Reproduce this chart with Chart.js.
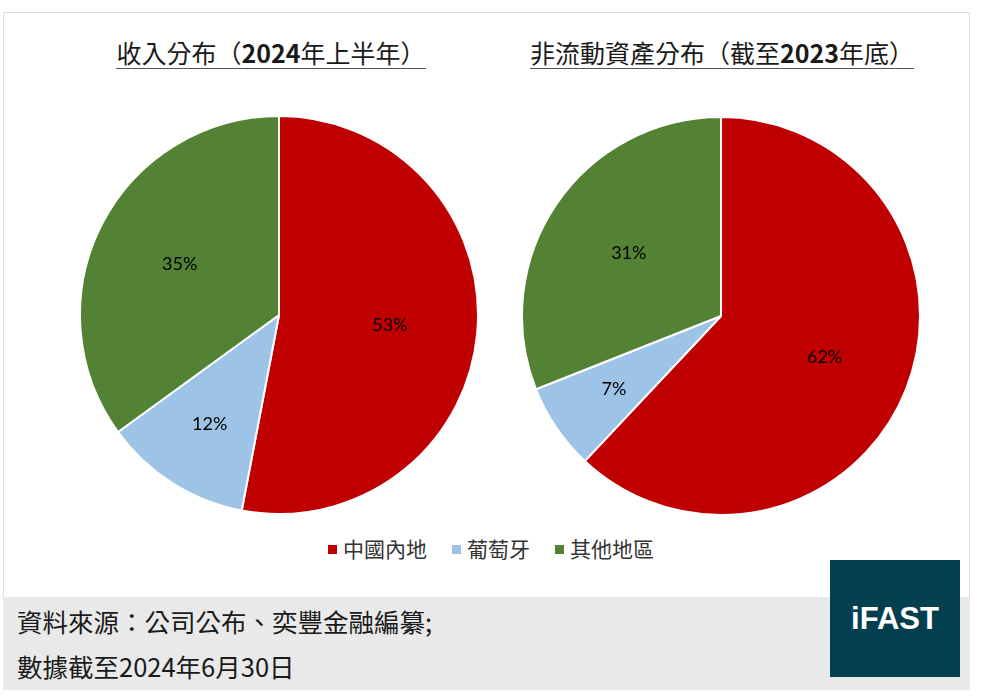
<!DOCTYPE html>
<html>
<head>
<meta charset="utf-8">
<script src="https://cdn.jsdelivr.net/npm/chart.js@4.4.1/dist/chart.umd.min.js"></script>
<style>
  body { margin: 0; width: 982px; height: 697px; background: #fff; position: relative; overflow: hidden;
         font-family: "Noto Sans CJK TC", "Noto Sans", sans-serif; }
  #frame { position: absolute; left: 3px; top: 12px; width: 965px; height: 584px; border: 1px solid #dcdcdc; background: #fff; }
  #footer { position: absolute; left: 3px; top: 597px; width: 967px; height: 93px; background: #e9e9e9; }
  .title { position: absolute; top: 34px; width: 500px; text-align: center; color: #1a1a1a; font-size: 25px; }
  .title span { display: inline-block; line-height: 29px; padding-bottom: 1px; border-bottom: 1.5px solid #555; }
  .title b { font-weight: 700; }
  canvas { position: absolute; }
  #legend { position: absolute; top: 533px; left: 0; width: 982px; text-align: center; font-size: 21px; color: #333; }
  #legend .item { display: inline-block; margin: 0 12.5px; }
  #legend .box { display: inline-block; width: 9px; height: 9px; margin-right: 6px; vertical-align: 3px; }
  .note { position: absolute; left: 17px; font-size: 25.5px; color: #1a1a1a; line-height: 30px; }
  #logo { position: absolute; left: 830px; top: 560px; width: 130px; height: 117px; background: #023f4f;
          color: #fff; font-family: "Liberation Sans", Arial, sans-serif; font-weight: bold; font-size: 31px;
          text-align: center; line-height: 117px; }
</style>
</head>
<body>
<div id="frame"></div>
<div id="footer"></div>

<div class="title" style="left:21px"><span>收入分布（<b>2024</b>年上半年）</span></div>
<div class="title" style="left:472px"><span>非流動資產分布（截至<b>2023</b>年底）</span></div>

<canvas id="chartRevenue" width="400" height="400" style="left:79px; top:115px; width:400px; height:400px"></canvas>
<canvas id="chartAssets" width="400" height="400" style="left:521px; top:116px; width:400px; height:400px"></canvas>

<div id="legend"></div>

<div class="note" style="top:606px">資料來源：公司公布、奕豐金融編纂;</div>
<div class="note" style="top:651px">數據截至2024年6月30日</div>
<div id="logo">iFAST</div>

<script>
// 數據
var categories = ['中國內地', '葡萄牙', '其他地區']
var revenueShare = [53, 12, 35]   // 收入分布 2024上半年 (%)
var assetShare = [62, 7, 31]      // 非流動資產分布 截至2023年底 (%)
var colors = ['#c00000', '#9dc3e6', '#548235']

// 百分比標籤
var pctLabels = {
  id: 'pctLabels',
  afterDatasetsDraw: function(chart) {
    var ctx = chart.ctx
    var meta = chart.getDatasetMeta(0)
    var values = chart.data.datasets[0].data
    ctx.save()
    ctx.font = '18px Lato, "Open Sans", sans-serif'
    ctx.fillStyle = '#000'
    ctx.textAlign = 'center'
    ctx.textBaseline = 'middle'
    meta.data.forEach(function(arc, i) {
      var p = arc.getProps(['x', 'y', 'startAngle', 'endAngle', 'outerRadius'], true)
      var mid = (p.startAngle + p.endAngle) / 2
      var r = p.outerRadius * (values[i] < 15 ? 0.65 : 0.56)
      ctx.fillText(values[i] + '%', p.x + Math.cos(mid) * r, p.y + Math.sin(mid) * r)
    })
    ctx.restore()
  }
}

function makePie(id, values) {
  var ctx = document.getElementById(id).getContext('2d')
  return new Chart(ctx, {
    type: 'pie',
    data: {
      labels: categories,
      datasets: [{
        data: values,
        backgroundColor: colors,
        borderColor: '#ffffff',
        borderWidth: 2
      }]
    },
    options: {
      responsive: false,
      animation: false,
      layout: { padding: 0 },
      plugins: {
        legend: { display: false },
        tooltip: { enabled: false }
      }
    },
    plugins: [pctLabels]
  })
}

makePie('chartRevenue', revenueShare)
makePie('chartAssets', assetShare)

// 圖例
var legend = document.getElementById('legend')
categories.forEach(function(name, i) {
  var item = document.createElement('span')
  item.className = 'item'
  item.innerHTML = '<span class="box" style="background:' + colors[i] + '"></span>' + name
  legend.appendChild(item)
})
</script>
</body>
</html>
